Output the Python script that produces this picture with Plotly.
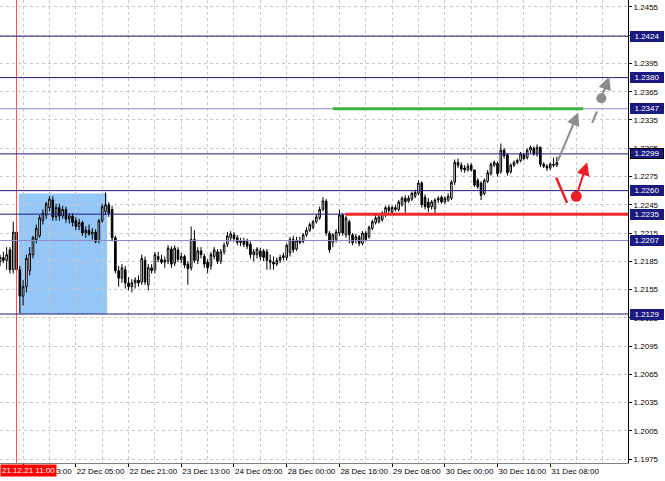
import plotly.graph_objects as go

# ---------------- data ----------------
opens = [1.2185,1.2189,1.2186,1.2197,1.2176,1.2216,1.2176,1.2148,1.2158,1.2175,
         1.2192,1.2208,1.2212,1.2228,1.2234,1.2242,1.2250,1.2232,1.2242,1.2233,
         1.2240,1.2230,1.2233,1.2228,1.2222,1.2226,1.2215,1.2218,1.2214,1.2216,
         1.2207,1.2228,1.2238,1.2245,1.2240,1.2210,1.2175,1.2167,1.2176,1.2162,
         1.2158,1.2162,1.2165,1.2163,1.2186,1.2160,1.2178,1.2176,1.2190,1.2187,
         1.2184,1.2185,1.2198,1.2183,1.2197,1.2187,1.2190,1.2182,1.2178,1.2208,
         1.2186,1.2196,1.2190,1.2184,1.2180,1.2190,1.2195,1.2185,1.2195,1.2203,
         1.2210,1.2213,1.2210,1.2205,1.2207,1.2206,1.2203,1.2192,1.2192,1.2196,
         1.2196,1.2195,1.2186,1.2184,1.2182,1.2186,1.2189,1.2189,1.2194,1.2208,
         1.2198,1.2207,1.2206,1.2213,1.2218,1.2221,1.2227,1.2231,1.2240,1.2249,
         1.2215,1.2205,1.2208,1.2215,1.2234,1.2213,1.2227,1.2213,1.2208,1.2211,
         1.2204,1.2215,1.2211,1.2220,1.2226,1.2227,1.2229,1.2234,1.2242,1.2237,
         1.2242,1.2240,1.2245,1.2252,1.2249,1.2251,1.2254,1.2257,1.2268,1.2253,
         1.2248,1.2243,1.2241,1.2250,1.2253,1.2248,1.2250,1.2252,1.2269,1.2290,
         1.2287,1.2284,1.2282,1.2287,1.2282,1.2271,1.2268,1.2257,1.2270,1.2278,
         1.2287,1.2289,1.2280,1.2303,1.2298,1.2280,1.2287,1.2290,1.2292,1.2298,
         1.2295,1.2303,1.2305,1.2299,1.2306,1.2288,1.2286,1.2284,1.2288,1.2287]
highs = [1.2192,1.2195,1.2200,1.2200,1.2227,1.2222,1.2180,1.2165,1.2192,1.2200,
         1.2212,1.2224,1.2234,1.2240,1.2248,1.2254,1.2254,1.2246,1.2246,1.2244,
         1.2243,1.2236,1.2236,1.2232,1.2230,1.2228,1.2222,1.2224,1.2220,1.2219,
         1.2230,1.2246,1.2258,1.2248,1.2244,1.2212,1.2180,1.2182,1.2180,1.2168,
         1.2166,1.2168,1.2170,1.2192,1.2190,1.2182,1.2182,1.2195,1.2195,1.2192,
         1.2190,1.2202,1.2201,1.2202,1.2200,1.2194,1.2192,1.2185,1.2222,1.2218,
         1.2200,1.2200,1.2193,1.2187,1.2195,1.2200,1.2198,1.2198,1.2205,1.2216,
         1.2217,1.2216,1.2213,1.2210,1.2210,1.2209,1.2206,1.2198,1.2200,1.2199,
         1.2198,1.2198,1.2192,1.2190,1.2189,1.2192,1.2194,1.2204,1.2211,1.2212,
         1.2211,1.2211,1.2215,1.2221,1.2226,1.2229,1.2235,1.2243,1.2253,1.2251,
         1.2217,1.2215,1.2219,1.2240,1.2236,1.2233,1.2229,1.2215,1.2214,1.2213,
         1.2217,1.2217,1.2223,1.2229,1.2234,1.2235,1.2238,1.2244,1.2245,1.2244,
         1.2245,1.2250,1.2254,1.2255,1.2255,1.2259,1.2261,1.2271,1.2270,1.2256,
         1.2252,1.2250,1.2252,1.2254,1.2255,1.2254,1.2257,1.2271,1.2293,1.2294,
         1.2290,1.2287,1.2289,1.2289,1.2282,1.2273,1.2270,1.2273,1.2282,1.2290,
         1.2292,1.2291,1.2310,1.2305,1.2300,1.2289,1.2292,1.2294,1.2301,1.2300,
         1.2305,1.2308,1.2307,1.2309,1.2307,1.2290,1.2288,1.2290,1.2295,1.2296]
lows  = [1.2180,1.2183,1.2176,1.2172,1.2172,1.2172,1.2130,1.2138,1.2152,1.2170,
         1.2188,1.2204,1.2210,1.2224,1.2230,1.2238,1.2228,1.2228,1.2228,1.2230,
         1.2226,1.2225,1.2222,1.2218,1.2218,1.2212,1.2210,1.2212,1.2208,1.2204,
         1.2204,1.2226,1.2234,1.2232,1.2206,1.2172,1.2158,1.2162,1.2156,1.2154,
         1.2152,1.2156,1.2158,1.2160,1.2160,1.2154,1.2172,1.2172,1.2184,1.2182,
         1.2178,1.2182,1.2178,1.2180,1.2184,1.2183,1.2178,1.2160,1.2175,1.2183,
         1.2182,1.2188,1.2178,1.2172,1.2176,1.2187,1.2182,1.2182,1.2192,1.2200,
         1.2206,1.2206,1.2202,1.2201,1.2200,1.2198,1.2188,1.2185,1.2188,1.2186,
         1.2185,1.2176,1.2176,1.2176,1.2180,1.2183,1.2186,1.2186,1.2190,1.2194,
         1.2196,1.2203,1.2204,1.2211,1.2216,1.2219,1.2225,1.2229,1.2238,1.2212,
         1.2194,1.2200,1.2205,1.2212,1.2212,1.2210,1.2204,1.2202,1.2204,1.2201,
         1.2202,1.2206,1.2209,1.2218,1.2224,1.2225,1.2227,1.2232,1.2236,1.2235,
         1.2238,1.2238,1.2243,1.2236,1.2247,1.2249,1.2252,1.2255,1.2242,1.2240,
         1.2237,1.2240,1.2236,1.2247,1.2246,1.2246,1.2248,1.2250,1.2266,1.2284,
         1.2280,1.2279,1.2280,1.2280,1.2264,1.2262,1.2250,1.2255,1.2268,1.2276,
         1.2285,1.2275,1.2278,1.2294,1.2276,1.2278,1.2285,1.2288,1.2290,1.2292,
         1.2293,1.2300,1.2297,1.2296,1.2285,1.2284,1.2281,1.2282,1.2285,1.2285]
closes = [1.2189,1.2186,1.2192,1.2176,1.2216,1.2176,1.2148,1.2158,1.2188,1.2193,
          1.2210,1.2220,1.2231,1.2236,1.2246,1.2251,1.2232,1.2242,1.2233,1.2240,
          1.2230,1.2233,1.2226,1.2222,1.2226,1.2215,1.2218,1.2214,1.2216,1.2206,
          1.2228,1.2243,1.2245,1.2236,1.2210,1.2175,1.2167,1.2178,1.2162,1.2158,
          1.2162,1.2165,1.2162,1.2188,1.2163,1.2178,1.2175,1.2192,1.2187,1.2184,
          1.2186,1.2199,1.2182,1.2199,1.2187,1.2190,1.2181,1.2177,1.2208,1.2186,
          1.2196,1.2192,1.2182,1.2178,1.2192,1.2197,1.2185,1.2195,1.2202,1.2212,
          1.2214,1.2209,1.2205,1.2207,1.2203,1.2201,1.2192,1.2195,1.2198,1.2190,
          1.2189,1.2186,1.2184,1.2182,1.2186,1.2189,1.2191,1.2202,1.2208,1.2197,
          1.2207,1.2205,1.2213,1.2218,1.2224,1.2227,1.2232,1.2240,1.2249,1.2215,
          1.2197,1.2213,1.2216,1.2234,1.2215,1.2231,1.2213,1.2205,1.2211,1.2204,
          1.2215,1.2208,1.2221,1.2227,1.2231,1.2232,1.2236,1.2242,1.2239,1.2242,
          1.2240,1.2248,1.2252,1.2248,1.2252,1.2257,1.2258,1.2268,1.2245,1.2243,
          1.2242,1.2248,1.2250,1.2252,1.2248,1.2252,1.2254,1.2269,1.2290,1.2287,
          1.2283,1.2282,1.2286,1.2282,1.2266,1.2264,1.2255,1.2271,1.2279,1.2288,
          1.2290,1.2278,1.2303,1.2297,1.2279,1.2287,1.2290,1.2292,1.2299,1.2294,
          1.2303,1.2306,1.2299,1.2306,1.2288,1.2286,1.2284,1.2288,1.2287,1.2290]

tick_bars = [7, 23, 39, 55, 71, 87, 103, 119, 135, 151, 167]
tick_labels = ["21 Dec 13:00", "22 Dec 05:00", "22 Dec 21:00", "23 Dec 13:00",
               "24 Dec 05:00", "28 Dec 00:00", "28 Dec 16:00", "29 Dec 08:00",
               "30 Dec 00:00", "30 Dec 16:00", "31 Dec 08:00"]
grid_bars = [7, 15, 23, 31, 39, 47, 55, 63, 71, 79, 87, 95, 103, 111, 119, 127,
             135, 143, 151, 159, 167, 175, 183]

level_prices = [1.2424, 1.2380, 1.2347, 1.2299, 1.2260, 1.2235, 1.2207, 1.2129]
level_colors = ["#1a1a80", "#1a1a80", "#8a8ac8", "#1a1a80", "#1a1a80", "#1a1a80",
                "#8a8ac8", "#1a1a80"]
marker_label = "21.12.21 11:00"
marker_bar = 5

box_bars = [5.7, 32.5]
box_prices = [1.2129, 1.2257]
green_bars = [101, 177]
green_price = 1.2347
red_bars = [104.8, 191]
red_price = 1.2235

gray_arrow1 = [169.1, 1.2290, 175.5, 1.2343]      # tail x, tail y, head x, head y
gray_dash = [179.7, 1.2332, 181.2, 1.2344]
gray_circle = [182.5, 1.2358]
gray_arrow2 = [182.5, 1.2358, 184.9, 1.2381]
red_stroke = [168.8, 1.2274, 172.1, 1.2247]
red_circle = [174.9, 1.2254]
red_arrow = [174.9, 1.2254, 178.2, 1.2290]

FONT = "Liberation Sans"

n = len(closes)
xs = list(range(n))

fig = go.Figure()
fig.add_trace(go.Candlestick(
    x=xs, open=opens, high=highs, low=lows, close=closes,
    increasing=dict(line=dict(color="black", width=1), fillcolor="white"),
    decreasing=dict(line=dict(color="black", width=1), fillcolor="black"),
    whiskerwidth=0, hoverinfo="skip", showlegend=False))

fig.add_trace(go.Scatter(x=[gray_circle[0]], y=[gray_circle[1]], mode="markers",
                         marker=dict(color="#8c8c8c", size=10), showlegend=False,
                         hoverinfo="skip"))
fig.add_trace(go.Scatter(x=[red_circle[0]], y=[red_circle[1]], mode="markers",
                         marker=dict(color="#ee1c25", size=11), showlegend=False,
                         hoverinfo="skip"))

shapes = []
shapes.append(dict(type="rect", xref="x", yref="y", x0=box_bars[0], x1=box_bars[1],
                   y0=box_prices[0], y1=box_prices[1], fillcolor="#94c6f8",
                   line=dict(width=0), layer="below"))
shapes.append(dict(type="line", xref="x", yref="paper", x0=marker_bar, x1=marker_bar,
                   y0=0, y1=1, line=dict(color="#ff4a4a", width=1)))
for p, c in zip(level_prices, level_colors):
    shapes.append(dict(type="line", xref="paper", yref="y", x0=0, x1=1, y0=p, y1=p,
                       line=dict(color=c, width=1)))
shapes.append(dict(type="line", xref="x", yref="y", x0=green_bars[0], x1=green_bars[1],
                   y0=green_price, y1=green_price, line=dict(color="#3cb43c", width=3)))
shapes.append(dict(type="line", xref="x", yref="y", x0=red_bars[0], x1=red_bars[1],
                   y0=red_price, y1=red_price, line=dict(color="#f02828", width=3)))
shapes.append(dict(type="line", xref="x", yref="y", x0=gray_dash[0], x1=gray_dash[2],
                   y0=gray_dash[1], y1=gray_dash[3], line=dict(color="#8c8c8c", width=2)))
shapes.append(dict(type="line", xref="x", yref="y", x0=red_stroke[0], x1=red_stroke[2],
                   y0=red_stroke[1], y1=red_stroke[3], line=dict(color="#ee1c25", width=2.5)))

annotations = []
for p, c in zip(level_prices, level_colors):
    annotations.append(dict(xref="paper", yref="y", x=1, y=p, xanchor="left",
                            yanchor="middle", xshift=2, text=f"{p:.4f}",
                            showarrow=False, bgcolor="#1a1a80", width=32, align="center",
                            bordercolor="black" if p == 1.2299 else "#1a1a80",
                            borderwidth=1, borderpad=0,
                            font=dict(family=FONT, size=8, color="white")))
annotations.append(dict(xref="paper", yref="paper", x=0, y=0, xanchor="left",
                        yanchor="top", yshift=-1, text=marker_label, showarrow=False,
                        bgcolor="#ff0000", borderpad=1,
                        font=dict(family=FONT, size=8, color="white")))
for a, col in [(gray_arrow1, "#8c8c8c"), (gray_arrow2, "#8c8c8c"), (red_arrow, "#ee1c25")]:
    annotations.append(dict(xref="x", yref="y", axref="x", ayref="y",
                            x=a[2], y=a[3], ax=a[0], ay=a[1], text="",
                            showarrow=True, arrowhead=2, arrowsize=1.3,
                            arrowwidth=2, arrowcolor=col))

fig.update_layout(
    width=665, height=481,
    margin=dict(l=0, r=37, t=0, b=18, autoexpand=False),
    paper_bgcolor="white", plot_bgcolor="white",
    font=dict(family=FONT, size=8, color="black"),
    shapes=shapes, annotations=annotations,
    xaxis=dict(range=[-0.02, 190.6], rangeslider=dict(visible=False),
               tickmode="array", tickvals=tick_bars, ticktext=tick_labels,
               ticklabelposition="outside right", tickangle=0, automargin=False,
               ticks="outside", ticklen=3,
               tickcolor="black", showline=True, linecolor="#808080", linewidth=1,
               showgrid=False, zeroline=False, fixedrange=True,
               minor=dict(tickvals=grid_bars, showgrid=True, gridcolor="#c8c8c8",
                          griddash="3px,3px", gridwidth=1, ticks="")),
    yaxis=dict(side="right", range=[1.19708, 1.24624], tick0=1.1975, dtick=0.003,
               tickformat=".4f", ticks="outside", ticklen=3, tickcolor="black",
               automargin=False,
               showline=True, linecolor="black", linewidth=1,
               showgrid=True, gridcolor="#c8c8c8", griddash="3px,3px",
               zeroline=False, fixedrange=True),
)

fig.write_html("out.html", config={"displayModeBar": False, "staticPlot": True})

# remove the browser's default page margin so the figure fills the window exactly
with open("out.html", "r", encoding="utf-8") as fh:
    html = fh.read()
html = html.replace("<head>", "<head><style>html,body{margin:0;padding:0;overflow:hidden;}</style>", 1)
with open("out.html", "w", encoding="utf-8") as fh:
    fh.write(html)
